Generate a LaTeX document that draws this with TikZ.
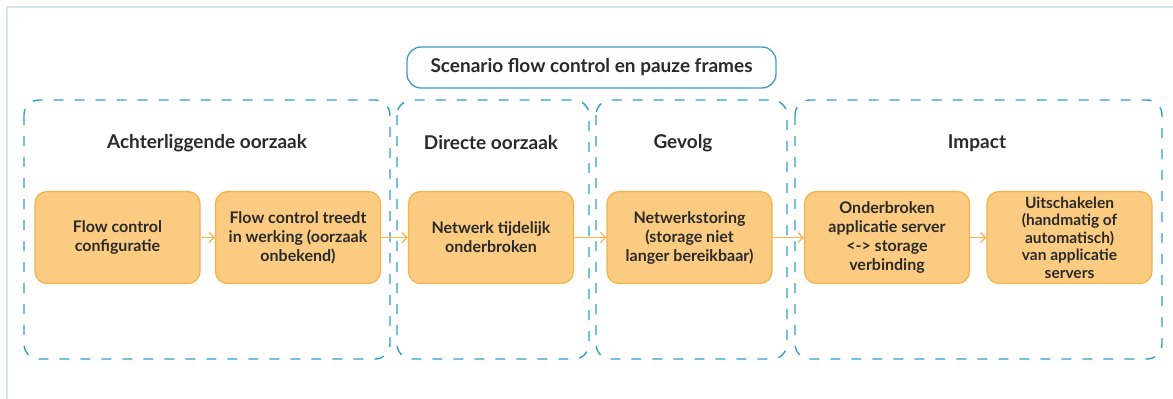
\documentclass[tikz,border=0pt]{standalone}
\usepackage{fontspec}
\setmainfont{Lato}
\usetikzlibrary{arrows.meta}
\definecolor{frameblue}{HTML}{D2E8F4}
\definecolor{dashblue}{HTML}{2FA0CC}
\definecolor{titleblue}{HTML}{3C9DC2}
\definecolor{boxfill}{HTML}{FBCB82}
\definecolor{boxline}{HTML}{F4B248}
\definecolor{arrowor}{HTML}{F6B548}
\definecolor{txt}{HTML}{2A2A2A}
\tikzset{
  group/.style={draw=dashblue, line width=1.4pt, dash pattern=on 10pt off 11pt, rounded corners=15pt, fill=none},
  grouplabel/.style={text=txt, font=\bfseries\fontsize{19}{22}\selectfont},
  stepbox/.style={draw=boxline, fill=boxfill, line width=1.2pt, rounded corners=12pt,
    minimum width=165pt, minimum height=92pt, align=center, text=txt, inner sep=2pt,
    font=\bfseries\fontsize{16}{19}\selectfont},
  flow/.style={draw=arrowor, line width=1.3pt, -{Straight Barb[length=5pt,width=10pt,line width=1.3pt]}},
  titlebox/.style={draw=titleblue, line width=1.3pt, rounded corners=14pt, minimum width=369pt,
    minimum height=41pt, text=txt, font=\bfseries\fontsize{19}{22}\selectfont}
}
\begin{document}
\begin{tikzpicture}[x=1pt,y=-1pt]
\useasboundingbox (0,0) rectangle (1173,399);
\draw[frameblue, line width=1.5pt] (7,399) -- (7,7) -- (1173,7);
% groups
\draw[group] (24,100) rectangle (390,359);
\draw[group] (397,100) rectangle (589,359);
\draw[group] (596,100) rectangle (787,359);
\draw[group] (795,100) rectangle (1162,359);
\node[grouplabel] (l1) at (207,143) {Achterliggende oorzaak};
\node[grouplabel] (l2) at (491,143) {Directe oorzaak};
\node[grouplabel] (l3) at (683,143) {Gevolg};
\node[grouplabel] (l4) at (977,143) {Impact};
% title
\node[titlebox, fill=white] (title) at (591.5,67.5) {Scenario flow control en pauze frames};
% steps
\node[stepbox] (b1) at (117.5,237.5) {Flow control\\configuratie};
\node[stepbox] (b2) at (298,237.5) {Flow control treedt\\in werking (oorzaak\\onbekend)};
\node[stepbox] (b3) at (491,237.5) {Netwerk tijdelijk\\onderbroken};
\node[stepbox] (b4) at (689.5,237.5) {Netwerkstoring\\(storage niet\\langer bereikbaar)};
\node[stepbox] (b5) at (887,237.5) {Onderbroken\\applicatie server\\<-> storage\\verbinding};
\node[stepbox, font=\bfseries\fontsize{15.5}{17.5}\selectfont] (b6) at (1069.5,237.5) {Uitschakelen\\(handmatig of\\automatisch)\\van applicatie\\servers};
% arrows
\draw[flow] (b1) -- (b2);
\draw[flow] (b2) -- (b3);
\draw[flow] (b3) -- (b4);
\draw[flow] (b4) -- (b5);
\draw[flow] (b5) -- (b6);
\end{tikzpicture}
\end{document}
